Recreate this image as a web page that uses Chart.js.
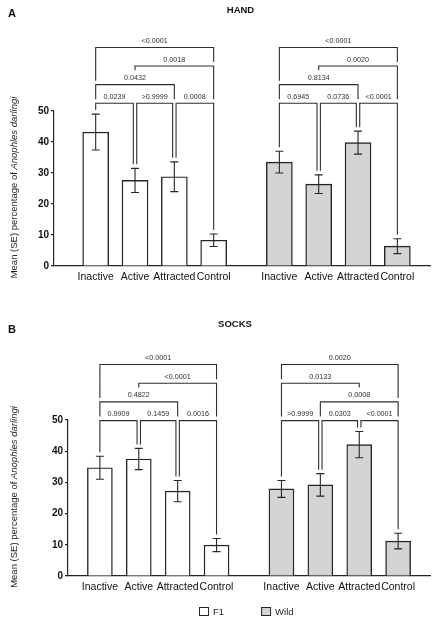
<!DOCTYPE html>
<html>
<head>
<meta charset="utf-8">
<script src="https://cdn.jsdelivr.net/npm/chart.js@4.4.1/dist/chart.umd.min.js"></script>
<style>
  body { margin: 0; background: #fff; }
  canvas { display: block; }
</style>
</head>
<body>
<canvas id="handChart" width="435" height="290"></canvas>
<canvas id="socksChart" width="435" height="339"></canvas>
<script>
var categories = ['Inactive', 'Active', 'Attracted', 'Control'];
var groups = ['F1', 'Wild'];
var yTicks = [0, 10, 20, 30, 40, 50];

var handF1Mean = [43.2, 27.6, 28.8, 8.3];
var handF1SE = [5.8, 3.9, 4.8, 2.0];
var handWildMean = [33.5, 26.4, 39.8, 6.4];
var handWildSE = [3.5, 3.0, 3.7, 2.4];

var socksF1Mean = [34.7, 37.5, 27.2, 9.9];
var socksF1SE = [3.7, 3.4, 3.4, 2.1];
var socksWildMean = [27.9, 29.2, 42.1, 11.2];
var socksWildSE = [2.7, 3.6, 4.2, 2.5];

// [from, to, level, p-value]
var handF1P = [[0, 1, 1, '0.0239'], [1, 2, 1, '>0.9999'], [2, 3, 1, '0.0008'], [0, 2, 2, '0.0432'], [1, 3, 3, '0.0018'], [0, 3, 4, '<0.0001']];
var handWildP = [[0, 1, 1, '0.6945'], [1, 2, 1, '0.0736'], [2, 3, 1, '<0.0001'], [0, 2, 2, '0.8134'], [1, 3, 3, '0.0020'], [0, 3, 4, '<0.0001']];
var socksF1P = [[0, 1, 1, '0.9909'], [1, 2, 1, '0.1459'], [2, 3, 1, '0.0016'], [0, 2, 2, '0.4822'], [1, 3, 3, '<0.0001'], [0, 3, 4, '<0.0001']];
var socksWildP = [[0, 1, 1, '>0.9999'], [1, 2, 1, '0.0303'], [2, 3, 1, '<0.0001'], [1, 3, 2, '0.0008'], [0, 2, 3, '0.0133'], [0, 3, 4, '0.0020']];

var FONT = '"Liberation Sans", Arial, sans-serif';
var INK = '#262626';
var GAP = 0.67;

function slot(g, i) { return g * (categories.length + GAP) + i; }

var slots = [];
groups.forEach(function (g, gi) {
    categories.forEach(function (c, i) { slots.push(slot(gi, i)); });
});

function toPoints(g, values) {
    return values.map(function (v, i) { return { x: slot(g, i), y: v }; });
}

var errorBarPlugin = {
    id: 'errorBars',
    afterDatasetsDraw: function (chart) {
        var ctx = chart.ctx, ys = chart.scales.y;
        ctx.save();
        ctx.strokeStyle = INK;
        ctx.lineWidth = 1.1;
        chart.data.datasets.forEach(function (ds, d) {
            chart.getDatasetMeta(d).data.forEach(function (bar, i) {
                var hi = ys.getPixelForValue(ds.data[i].y + ds.se[i]);
                var lo = ys.getPixelForValue(ds.data[i].y - ds.se[i]);
                ctx.beginPath();
                ctx.moveTo(bar.x, hi); ctx.lineTo(bar.x, lo);
                ctx.moveTo(bar.x - 4, hi); ctx.lineTo(bar.x + 4, hi);
                ctx.moveTo(bar.x - 4, lo); ctx.lineTo(bar.x + 4, lo);
                ctx.stroke();
            });
        });
        ctx.restore();
    }
};

var bracketPlugin = {
    id: 'brackets',
    afterDraw: function (chart, args, opts) {
        var ctx = chart.ctx, xs = chart.scales.x, ys = chart.scales.y;
        ctx.save();
        ctx.font = '7.2px ' + FONT;
        ctx.strokeStyle = '#2e2e2e';
        ctx.fillStyle = '#2e2e2e';
        ctx.lineWidth = 1.1;
        ctx.textAlign = 'center';
        opts.sets.forEach(function (set, g) {
            var ds = chart.data.datasets[g];
            var items = set.map(function (b) {
                return { a: b[0], b: b[1], level: b[2], text: b[3],
                         y: ys.getPixelForValue(opts.base + (b[2] - 1) * opts.step) };
            });
            items.forEach(function (it) {
                var x1 = xs.getPixelForValue(slot(g, it.a));
                var x2 = xs.getPixelForValue(slot(g, it.b));
                items.forEach(function (o) {
                    if (o === it || o.level !== it.level) return;
                    if (o.b === it.a) x1 += 1.7;
                    if (o.a === it.b) x2 -= 1.7;
                });
                it.x1 = x1; it.x2 = x2;
                it.cx = (x1 + x2) / 2;
                it.w = ctx.measureText(it.text).width;
                it.labelTop = it.y - 10.5;
            });
            function legBottom(it, x, idx) {
                var lim = ys.getPixelForValue(ds.data[idx].y + ds.se[idx]);
                items.forEach(function (o) {
                    if (o === it || o.y <= it.y) return;
                    if (x >= o.x1 - 2.5 && x <= o.x2 + 2.5) lim = Math.min(lim, o.y);
                    if (Math.abs(x - o.cx) < o.w / 2 + 2) lim = Math.min(lim, o.labelTop);
                });
                return lim - 4;
            }
            items.forEach(function (it) {
                ctx.beginPath();
                ctx.moveTo(it.x1, legBottom(it, it.x1, it.a));
                ctx.lineTo(it.x1, it.y);
                ctx.lineTo(it.x2, it.y);
                ctx.lineTo(it.x2, legBottom(it, it.x2, it.b));
                ctx.stroke();
                ctx.fillText(it.text, it.cx, it.y - 4.5);
            });
        });
        ctx.restore();
    }
};

var decorPlugin = {
    id: 'decor',
    afterDraw: function (chart, args, o) {
        var ctx = chart.ctx, area = chart.chartArea;
        ctx.save();
        ctx.fillStyle = '#111';
        ctx.textAlign = 'left';
        ctx.textBaseline = 'alphabetic';
        ctx.font = 'bold 11px ' + FONT;
        ctx.fillText(o.letter, 8, o.letterY);
        ctx.font = 'bold 9.5px ' + FONT;
        ctx.textAlign = 'center';
        ctx.fillText(o.title, o.titleX, o.titleY);

        // y axis title, species name in italics
        var p1 = 'Mean (SE) percentage of ', p2 = 'Anophles darlingi';
        ctx.save();
        ctx.translate(14.5, (area.top + area.bottom) / 2 - 1);
        ctx.rotate(-Math.PI / 2);
        ctx.fillStyle = '#1e1e1e';
        ctx.textAlign = 'left';
        ctx.textBaseline = 'middle';
        ctx.font = '9.5px ' + FONT;
        var w1 = ctx.measureText(p1).width;
        ctx.font = 'italic 9.5px ' + FONT;
        var w2 = ctx.measureText(p2).width;
        var x0 = -(w1 + w2) / 2;
        ctx.font = '9.5px ' + FONT;
        ctx.fillText(p1, x0, 0);
        ctx.font = 'italic 9.5px ' + FONT;
        ctx.fillText(p2, x0 + w1, 0);
        ctx.restore();

        if (o.legend) {
            var x = o.legend.x, y = o.legend.y;
            ctx.font = '9.5px ' + FONT;
            ctx.textAlign = 'left';
            ctx.textBaseline = 'alphabetic';
            chart.data.datasets.forEach(function (ds) {
                ctx.fillStyle = ds.backgroundColor;
                ctx.fillRect(x, y, 9, 8);
                ctx.strokeStyle = INK;
                ctx.lineWidth = 1;
                ctx.strokeRect(x + 0.5, y + 0.5, 9, 8);
                ctx.fillStyle = '#222';
                ctx.fillText(ds.label, x + 14, y + 8);
                x += 14 + ctx.measureText(ds.label).width + 37;
            });
        }
        ctx.restore();
    }
};

function makeChart(id, p) {
    var datasets = [
        { label: groups[0], data: toPoints(0, p.f1Mean), se: p.f1SE, backgroundColor: '#ffffff' },
        { label: groups[1], data: toPoints(1, p.wildMean), se: p.wildSE, backgroundColor: '#d4d4d4' }
    ].map(function (d) {
        d.borderColor = INK;
        d.borderWidth = 1.4;
        d.barThickness = p.barWidth;
        d.grouped = false;
        return d;
    });

    return new Chart(document.getElementById(id), {
        type: 'bar',
        data: { datasets: datasets },
        options: {
            responsive: false,
            animation: false,
            events: [],
            layout: { padding: { top: p.top, right: 5, left: 0, bottom: 0 } },
            plugins: {
                legend: { display: false },
                tooltip: { enabled: false },
                brackets: { sets: p.brackets, base: p.base, step: 6 },
                decor: p.decor
            },
            scales: {
                x: {
                    type: 'linear',
                    offset: false,
                    min: p.xMin, max: p.xMax,
                    afterFit: function (s) { s.height = p.xHeight; },
                    afterBuildTicks: function (s) {
                        s.ticks = slots.map(function (v) { return { value: v }; });
                    },
                    grid: { display: false, drawTicks: false, offset: false },
                    border: { display: true, color: INK, width: 1.2 },
                    ticks: {
                        autoSkip: false, maxRotation: 0, padding: 4.5,
                        color: '#111',
                        font: { family: FONT, size: 10.5 },
                        callback: function (v, i) { return categories[i % categories.length]; }
                    }
                },
                y: {
                    min: 0, max: 50,
                    afterFit: function (s) { s.width = p.yWidth; },
                    afterBuildTicks: function (s) {
                        s.ticks = yTicks.map(function (v) { return { value: v }; });
                    },
                    grid: { display: true, drawOnChartArea: false, drawTicks: true, tickLength: 3, color: INK, lineWidth: 1.2 },
                    border: { display: true, color: INK, width: 1.2 },
                    ticks: {
                        padding: 2,
                        color: '#111',
                        font: { family: FONT, size: 10, weight: 'bold' }
                    }
                }
            }
        },
        plugins: [errorBarPlugin, bracketPlugin, decorPlugin]
    });
}

makeChart('handChart', {
    f1Mean: handF1Mean, f1SE: handF1SE, wildMean: handWildMean, wildSE: handWildSE,
    brackets: [handF1P, handWildP], base: 52.5,
    top: 111, xHeight: 24, yWidth: 54, xMin: -1.06, xMax: 8.5, barWidth: 26,
    decor: { letter: 'A', letterY: 17.3, title: 'HAND', titleX: 240.5, titleY: 13.3 }
});

makeChart('socksChart', {
    f1Mean: socksF1Mean, f1SE: socksF1SE, wildMean: socksWildMean, wildSE: socksWildSE,
    brackets: [socksF1P, socksWildP], base: 49.8,
    top: 130, xHeight: 53, yWidth: 68, xMin: -0.82, xMax: 8.49, barWidth: 25,
    decor: { letter: 'B', letterY: 42.7, title: 'SOCKS', titleX: 235, titleY: 36.7,
             legend: { x: 199, y: 317 } }
});
</script>
</body>
</html>
